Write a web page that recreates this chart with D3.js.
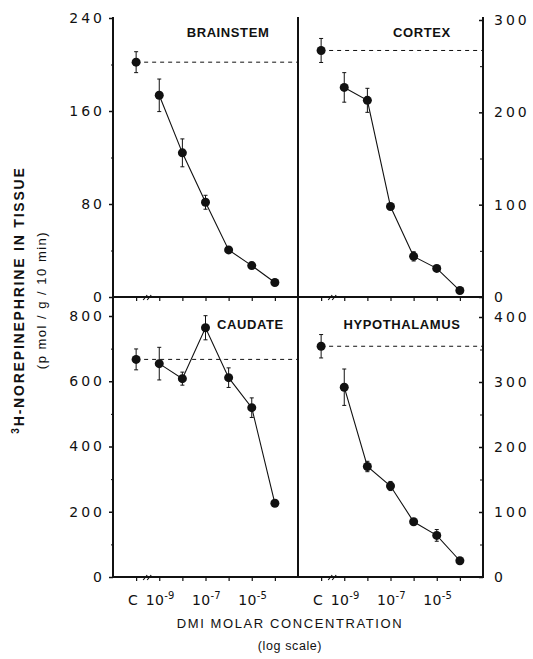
<!DOCTYPE html>
<html>
<head>
<meta charset="utf-8">
<script src="https://cdn.jsdelivr.net/npm/d3@7"></script>
<style>
  body { margin: 0; background: #fff; }
  svg { display: block; }
  .num { font-family: "DejaVu Sans", sans-serif; font-size: 14px; letter-spacing: 3px; fill: #111; }
  .lbl { font-family: "Liberation Sans", Arial, sans-serif; font-weight: bold; font-size: 13px; fill: #111; }
</style>
</head>
<body>
<script>
// valores
var concentraciones = ["C", "1e-9", "1e-8", "1e-7", "1e-6", "1e-5", "1e-4"];
var brainstem = [202, 173.5, 124, 81.5, 40.5, 27, 12.5];
var brainstemErr = [9, 14, 12, 6, 2, 0, 0];
var cortex = [267, 227, 213, 98, 44, 31, 7];
var cortexErr = [13, 16, 13, 0, 5, 0, 0];
var caudate = [667, 654, 608, 764, 611, 519, 226];
var caudateErr = [32, 50, 20, 37, 30, 30, 0];
var hypothalamus = [355, 292, 170, 140, 85, 64, 25];
var hypothalamusErr = [18, 28, 8, 7, 0, 9, 0];

var xTicks = ["C", "1e-9", "1e-7", "1e-5"];
var xTickExp = ["", "-9", "-7", "-5"];
var ticksTopLeft = [0, 80, 160, 240];
var ticksTopRight = [0, 100, 200, 300];
var ticksBottomLeft = [0, 200, 400, 600, 800];
var ticksBottomRight = [0, 100, 200, 300, 400];

var w = 533, h = 659;
var xL = 113, xM = 298, xR = 483;
var yTop = 18, yMid = 297, yBot = 577;

var svg = d3.select("body").append("svg").attr("width", w).attr("height", h);

var xLeft = d3.scalePoint().domain(concentraciones).range([xL, xM]).padding(1);
var xRight = d3.scalePoint().domain(concentraciones).range([xM, xR]).padding(1);

var yTL = d3.scaleLinear().domain([0, 240]).range([yMid, yTop]);
var yTR = d3.scaleLinear().domain([0, 300]).range([yMid, 20]);
var yBL = d3.scaleLinear().domain([0, 800]).range([yBot, 316]);
var yBR = d3.scaleLinear().domain([0, 400]).range([yBot, 317]);

// marco
var frame = svg.append("g").attr("stroke", "#111").attr("stroke-width", 2).attr("fill", "none");
frame.append("line").attr("x1", xL).attr("x2", xL).attr("y1", yTop - 1).attr("y2", yBot + 1);
frame.append("line").attr("x1", xM).attr("x2", xM).attr("y1", yTop - 1).attr("y2", yBot + 1);
frame.append("line").attr("x1", xR).attr("x2", xR).attr("y1", yTop - 1).attr("y2", yBot + 1);
frame.append("line").attr("x1", xL).attr("x2", xR).attr("y1", yMid).attr("y2", yMid);
frame.append("line").attr("x1", xL).attr("x2", xR).attr("y1", yBot).attr("y2", yBot);

function ejeY(scale, vals, minor, side) {
  var g = svg.append("g").attr("transform", "translate(" + (side == "left" ? xL : xR) + ",0)");
  var ax = side == "left" ? d3.axisLeft(scale).tickSize(4).tickPadding(4)
                          : d3.axisRight(scale).tickSize(-4).tickPadding(11);
  g.call(ax.tickValues(vals).tickFormat(d3.format("d")));
  g.select(".domain").remove();
  g.selectAll("line").attr("stroke", "#111").attr("stroke-width", 1.5);
  g.selectAll("text").attr("class", "num").attr("font-family", null).attr("font-size", null);
  var gm = svg.append("g").attr("transform", "translate(" + (side == "left" ? xL : xR) + ",0)");
  var axm = side == "left" ? d3.axisLeft(scale).tickSize(2) : d3.axisRight(scale).tickSize(-3);
  gm.call(axm.tickValues(minor).tickFormat(""));
  gm.select(".domain").remove();
  gm.selectAll("line").attr("stroke", "#111").attr("stroke-width", 1);
}
ejeY(yTL, ticksTopLeft, [40, 120, 200], "left");
ejeY(yTR, ticksTopRight, [50, 150, 250], "right");
ejeY(yBL, ticksBottomLeft, [100, 300, 500, 700], "left");
ejeY(yBR, ticksBottomRight, [50, 150, 250, 350], "right");

function ejeX(scale, y, conEtiquetas) {
  var g = svg.append("g").attr("transform", "translate(0," + y + ")");
  g.call(d3.axisBottom(scale).tickSize(4).tickFormat(""));
  g.select(".domain").remove();
  g.selectAll("line").attr("stroke", "#111").attr("stroke-width", 1.2);
  // corte del eje
  var bx = (scale("C") + scale("1e-9")) / 2;
  [-2.5, 1.5].forEach(function (dx) {
    g.append("line").attr("x1", bx + dx - 2).attr("y1", 3).attr("x2", bx + dx + 2).attr("y2", -2)
      .attr("stroke", "#111").attr("stroke-width", 1.2);
  });
  if (conEtiquetas) {
    xTicks.forEach(function (t, i) {
      var tx = g.append("text").attr("class", "num").attr("y", 28)
        .attr("text-anchor", "middle").style("letter-spacing", "0.3px").style("font-size", "14px");
      if (t == "C") tx.attr("x", scale(t) - 3).text("C");
      else {
        tx.attr("x", scale(t) + 1);
        tx.append("tspan").text("10");
        tx.append("tspan").attr("dy", -6).style("font-size", "10px").text("-" + xTickExp[i].slice(1));
      }
    });
  }
}
ejeX(xLeft, yMid, false);
ejeX(xRight, yMid, false);
ejeX(xLeft, yBot, true);
ejeX(xRight, yBot, true);

function panel(x, y, vals, errs, nombre, nx, ny, anchor) {
  var g = svg.append("g");
  var c = vals[0];
  g.append("line").attr("x1", x("C")).attr("x2", x.range()[1]).attr("y1", y(c)).attr("y2", y(c))
    .attr("stroke", "#111").attr("stroke-width", 1).attr("stroke-dasharray", "4,4");
  var pts = concentraciones.map(function (k, i) { return { k: k, v: vals[i], e: errs[i] }; });
  var linea = d3.line().x(function (d) { return x(d.k); }).y(function (d) { return y(d.v); });
  g.append("path").datum(pts.slice(1)).attr("d", linea).attr("fill", "none")
    .attr("stroke", "#111").attr("stroke-width", 1.1);
  var eb = g.selectAll(".eb").data(pts.filter(function (d) { return d.e > 0; })).enter().append("g");
  eb.append("line").attr("x1", function (d) { return x(d.k); }).attr("x2", function (d) { return x(d.k); })
    .attr("y1", function (d) { return y(d.v - d.e); }).attr("y2", function (d) { return y(d.v + d.e); })
    .attr("stroke", "#111").attr("stroke-width", 1);
  [-1, 1].forEach(function (s) {
    eb.append("line").attr("x1", function (d) { return x(d.k) - 2; }).attr("x2", function (d) { return x(d.k) + 2; })
      .attr("y1", function (d) { return y(d.v + s * d.e); }).attr("y2", function (d) { return y(d.v + s * d.e); })
      .attr("stroke", "#111").attr("stroke-width", 1);
  });
  g.selectAll("circle").data(pts).enter().append("circle")
    .attr("cx", function (d) { return x(d.k); }).attr("cy", function (d) { return y(d.v); })
    .attr("r", 4.5).attr("fill", "#111");
  g.append("text").attr("class", "lbl").attr("x", nx).attr("y", ny).attr("text-anchor", anchor)
    .style("letter-spacing", "0.6px").text(nombre);
}
panel(xLeft, yTL, brainstem, brainstemErr, "BRAINSTEM", 228, 37, "middle");
panel(xRight, yTR, cortex, cortexErr, "CORTEX", 422, 37, "middle");
panel(xLeft, yBL, caudate, caudateErr, "CAUDATE", 217, 329, "start");
panel(xRight, yBR, hypothalamus, hypothalamusErr, "HYPOTHALAMUS", 402, 329, "middle");

// titulos
var ty = svg.append("text").attr("class", "lbl").attr("transform", "translate(24,300) rotate(-90)")
  .attr("text-anchor", "middle").style("font-size", "14px").style("letter-spacing", "1.8px");
ty.append("tspan").attr("dy", -5).style("font-size", "10px").text("3");
ty.append("tspan").attr("dy", 5).text("H-NOREPINEPHRINE  IN  TISSUE");

svg.append("text").attr("class", "lbl").attr("transform", "translate(46,300) rotate(-90)")
  .attr("text-anchor", "middle").style("font-weight", "normal").style("font-size", "13px")
  .style("letter-spacing", "1.5px").text("(p mol / g / 10 min)");

svg.append("text").attr("class", "lbl").attr("x", 290).attr("y", 628).attr("text-anchor", "middle")
  .style("font-weight", "normal").style("font-size", "13px").style("letter-spacing", "1.6px")
  .text("DMI MOLAR CONCENTRATION");
svg.append("text").attr("class", "lbl").attr("x", 290).attr("y", 650).attr("text-anchor", "middle")
  .style("font-weight", "normal").style("font-size", "12.5px").style("letter-spacing", "0.6px")
  .text("(log scale)");
</script>
</body>
</html>
